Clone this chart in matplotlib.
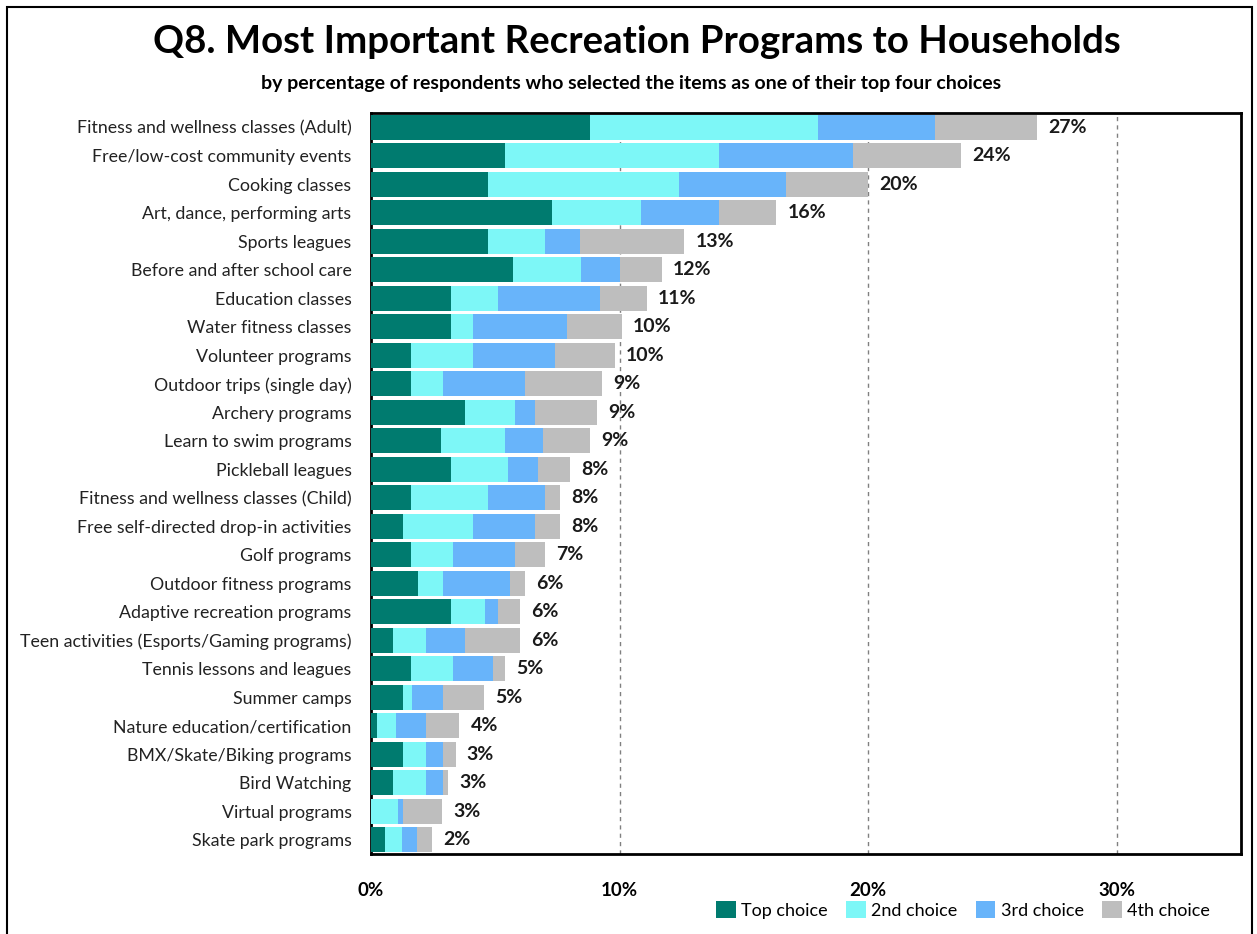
import numpy as np
import matplotlib.pyplot as plt
from matplotlib.patches import Rectangle
from matplotlib.ticker import FuncFormatter

plt.rcParams['font.family'] = ['Lato', 'DejaVu Sans']

programs = [
    "Fitness and wellness classes (Adult)",
    "Free/low-cost community events",
    "Cooking classes",
    "Art, dance, performing arts",
    "Sports leagues",
    "Before and after school care",
    "Education classes",
    "Water fitness classes",
    "Volunteer programs",
    "Outdoor trips (single day)",
    "Archery programs",
    "Learn to swim programs",
    "Pickleball leagues",
    "Fitness and wellness classes (Child)",
    "Free self-directed drop-in activities",
    "Golf programs",
    "Outdoor fitness programs",
    "Adaptive recreation programs",
    "Teen activities (Esports/Gaming programs)",
    "Tennis lessons and leagues",
    "Summer camps",
    "Nature education/certification",
    "BMX/Skate/Biking programs",
    "Bird Watching",
    "Virtual programs",
    "Skate park programs",
]

# percent of respondents, by rank of choice
top_choice = [8.8, 5.4, 4.7, 7.3, 4.7, 5.7, 3.2, 3.2, 1.6, 1.6, 3.8, 2.8, 3.2,
              1.6, 1.3, 1.6, 1.9, 3.2, 0.9, 1.6, 1.3, 0.25, 1.3, 0.9, 0.0, 0.55]
second_choice = [9.2, 8.6, 7.7, 3.55, 2.3, 2.75, 1.9, 0.9, 2.5, 1.3, 2.0, 2.6, 2.3,
                 3.1, 2.8, 1.7, 1.0, 1.4, 1.3, 1.7, 0.35, 0.75, 0.9, 1.3, 1.1, 0.7]
third_choice = [4.7, 5.4, 4.3, 3.15, 1.4, 1.55, 4.1, 3.8, 3.3, 3.3, 0.8, 1.5, 1.2,
                2.3, 2.5, 2.5, 2.7, 0.5, 1.6, 1.6, 1.25, 1.2, 0.7, 0.7, 0.2, 0.6]
fourth_choice = [4.1, 4.35, 3.3, 2.3, 4.2, 1.7, 1.9, 2.2, 2.4, 3.1, 2.5, 1.9, 1.3,
                 0.6, 1.0, 1.2, 0.6, 0.9, 2.2, 0.5, 1.65, 1.35, 0.5, 0.2, 1.55, 0.6]

series = [
    ("Top choice", top_choice, "#007B6F"),
    ("2nd choice", second_choice, "#7DF7F7"),
    ("3rd choice", third_choice, "#68B4FA"),
    ("4th choice", fourth_choice, "#BEBEBE"),
]

fig = plt.figure(figsize=(12.57, 9.34), dpi=100)
ax = fig.add_axes([371 / 1257, 1 - 854 / 934, 870 / 1257, 741 / 934])

y = np.arange(len(programs))
left = np.zeros(len(programs))
for name, vals, col in series:
    vals = np.array(vals)
    ax.barh(y, vals, left=left, height=0.88, color=col, label=name, zorder=3)
    left += vals

for yi, total in zip(y, left):
    ax.text(total + 0.45, yi, f"{total:.0f}%", va="center", ha="left",
            fontsize=14, fontweight="bold", color="#1a1a1a", zorder=4)

ax.set_xlim(0, 35)
ax.set_ylim(len(programs) - 0.5, -0.5)
ax.set_xticks([0, 10, 20, 30])
ax.xaxis.set_major_formatter(FuncFormatter(lambda v, p: f"{v:.0f}%"))
ax.set_yticks(y)
ax.set_yticklabels(programs)
ax.tick_params(axis="y", length=0, pad=14, labelsize=12.8, labelcolor="#222222")
ax.tick_params(axis="x", length=0, pad=20, labelsize=13.5)
for lbl in ax.get_xticklabels():
    lbl.set_fontweight("bold")

for xv in [10, 20, 30]:
    ax.axvline(xv, color="#808080", linestyle=(0, (3, 3)), linewidth=1, zorder=1)

for sp in ax.spines.values():
    sp.set_linewidth(2)
    sp.set_color("black")

fig.text(637 / 1257, 1 - 42 / 934, "Q8. Most Important Recreation Programs to Households",
         ha="center", va="center", fontsize=27.6, fontweight="bold")
fig.text(631 / 1257, 1 - 84 / 934,
         "by percentage of respondents who selected the items as one of their top four choices",
         ha="center", va="center", fontsize=14, fontweight="bold")

handles, labels = ax.get_legend_handles_labels()
fig.legend(handles, labels, loc="center", bbox_to_anchor=(963 / 1257, 1 - 910 / 934),
           ncol=4, frameon=False, fontsize=13, handlelength=1.1, handleheight=1.1,
           handletextpad=0.3, columnspacing=1.0)

# outer frame
fig.patches.append(Rectangle((7 / 1257, -0.01), 1245 / 1257, 1 - 7 / 934 + 0.01,
                             transform=fig.transFigure, fill=False,
                             edgecolor="black", linewidth=1.5))

fig.savefig("out.png", dpi=100)
